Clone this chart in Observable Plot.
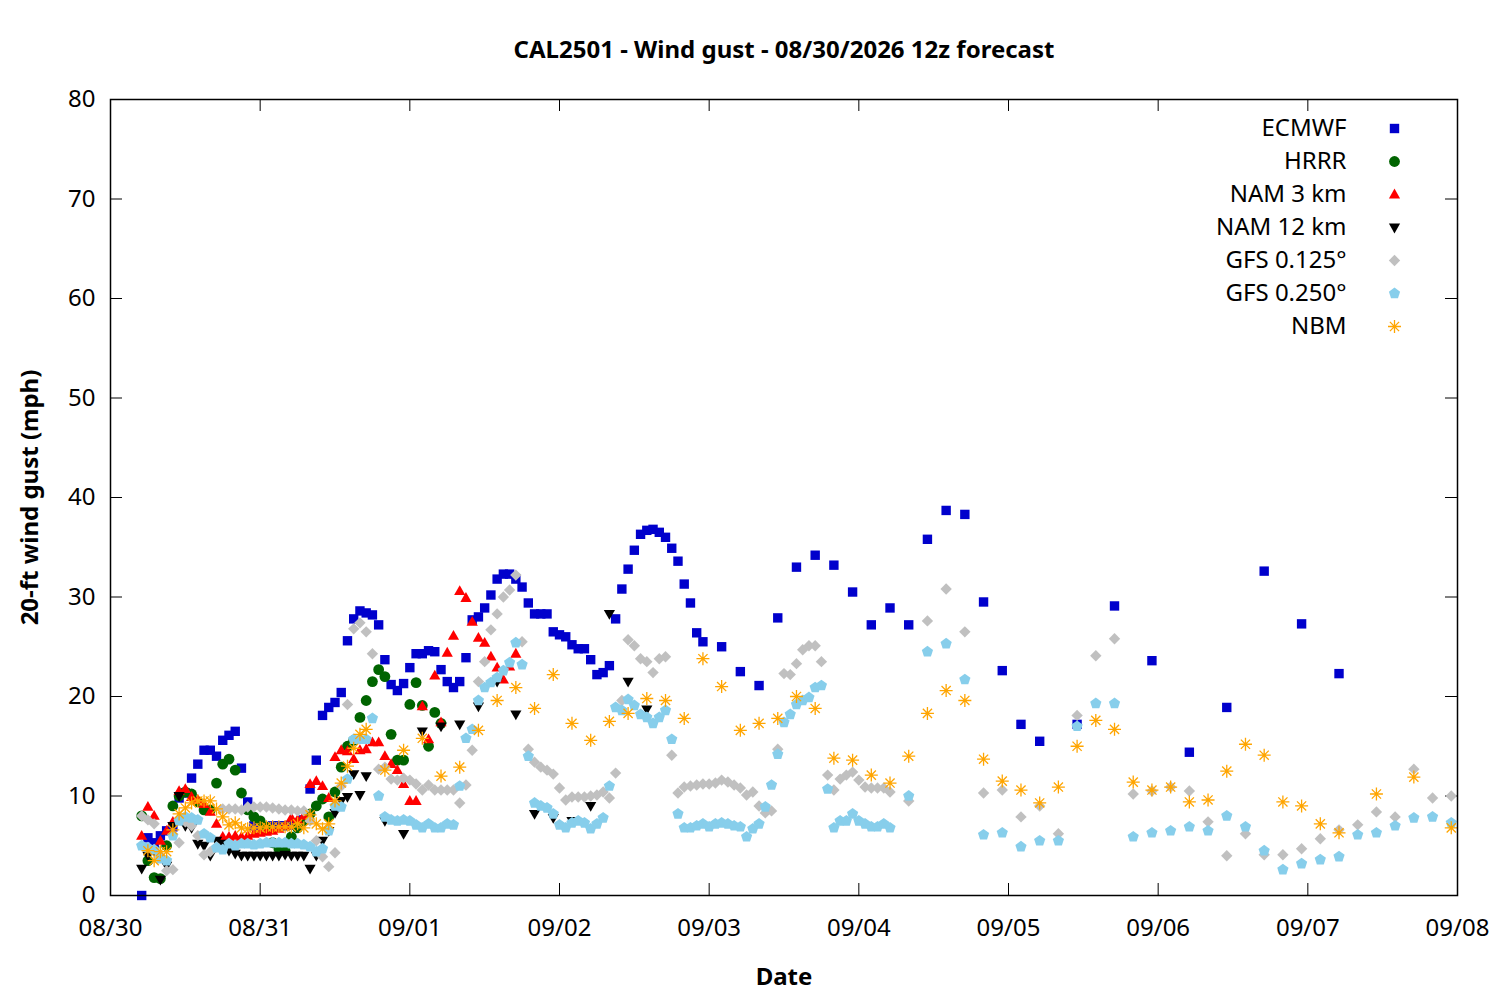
<!DOCTYPE html>
<html>
<head>
<meta charset="utf-8">
<script src="https://cdn.jsdelivr.net/npm/d3@7"></script>
<script src="https://cdn.jsdelivr.net/npm/@observablehq/plot@0.6"></script>
<style>
  body { margin: 0; background: #fff; }
</style>
</head>
<body>
<div id="chart"></div>
<script>
// forecast run 08/30/2026 12z, hours counted from 08/30 00:00 local
const title = "CAL2501 - Wind gust - 08/30/2026 12z forecast"
const xLabel = "Date"
const yLabel = "20-ft wind gust (mph)"
const dayLabels = ["08/30", "08/31", "09/01", "09/02", "09/03", "09/04", "09/05", "09/06", "09/07", "09/08"]
const yTicks = [0, 10, 20, 30, 40, 50, 60, 70, 80]
const models = ["ECMWF", "HRRR", "NAM 3 km", "NAM 12 km", "GFS 0.125°", "GFS 0.250°", "NBM"]

// output times of each model (hourly, then 3-hourly, then 6-hourly)
const ecmwfHours = [...d3.range(5, 96), ...d3.range(98, 150, 3), ...d3.range(155, 198, 6)]
const hrrrHours = d3.range(5, 54)
const nam3Hours = d3.range(5, 66)
const nam12Hours = [...d3.range(5, 42), ...d3.range(44, 87, 3)]
const gfsHours = [...d3.range(5, 126), ...d3.range(128, 216, 3)]
const nbmHours = [...d3.range(6, 42), ...d3.range(44, 198, 3), 203, 209, 215]

const ecmwfGust = [
  0.0, 5.8, 5.3, 6.0, 6.5, 6.9, 9.8, 10.3, 11.8, 13.2, 14.6, 14.6, 14.0, 15.6, 16.1, 16.5, 12.8, 9.4,
  7.0, 6.9, 6.9, 7.0, 7.0, 7.0, 7.1, 7.2, 7.6, 10.7, 13.6, 18.1, 18.9, 19.4, 20.4, 25.6, 27.8, 28.6,
  28.4, 28.2, 27.2, 23.7, 21.2, 20.6, 21.3, 22.9, 24.3, 24.3, 24.6, 24.5, 22.7, 21.5, 20.9, 21.5, 23.9, 27.7,
  28.0, 28.9, 30.2, 31.8, 32.3, 32.3, 31.8, 31.0, 29.4, 28.3, 28.3, 28.3, 26.5, 26.2, 26.0, 25.2, 24.8, 24.8,
  23.7, 22.2, 22.4, 23.1, 27.8, 30.8, 32.8, 34.7, 36.3, 36.7, 36.8, 36.5, 36.0, 34.9, 33.6, 31.3, 29.4, 26.4,
  25.5,
  25.0, 22.5, 21.1, 27.9, 33.0, 34.2, 33.2, 30.5, 27.2, 28.9, 27.2, 35.8, 38.7, 38.3, 29.5, 22.6, 17.2, 15.5,
  17.2, 29.1, 23.6, 14.4, 18.9, 32.6, 27.3, 22.3
]
const hrrrGust = [
  8.0, 3.5, 1.8, 1.7, 5.0, 9.0, 10.0, 10.4, 10.2, 9.4, 8.6, 8.6, 11.3, 13.2, 13.7, 12.6, 10.3, 8.6,
  7.9, 7.5, 6.9, 5.3, 4.7, 4.5, 5.9, 6.8, 7.5, 8.2, 9.0, 9.7, 7.9, 10.4, 12.9, 15.0, 15.6, 17.9,
  19.6, 21.5, 22.7, 22.0, 16.2, 13.6, 13.6, 19.2, 21.4, 19.1, 15.0, 18.4, 17.3
]
const nam3Gust = [
  6.0, 8.9, 8.0, 5.5, 6.5, 7.4, 10.5, 10.7, 9.9, 9.6, 9.2, 8.4, 7.2, 5.9, 5.9, 6.0, 5.9, 6.0,
  6.2, 6.3, 6.4, 6.5, 6.7, 7.0, 7.8, 7.6, 8.0, 11.2, 11.5, 11.0, 9.8, 13.9, 14.6, 14.5, 13.7, 14.6,
  14.7, 15.4, 15.4, 14.0, 13.2, 12.6, 11.2, 9.5, 9.5, 19.0, 15.7, 22.1, 17.4, 24.4, 26.1, 30.6, 29.9, 27.5,
  25.9, 25.4, 24.0, 22.9, 21.7, 23.0, 24.3
]
const nam12Gust = [
  2.7, 4.0, 4.5, 1.6, 3.0, 7.0, 10.0, 7.0, 6.8, 5.2, 5.0, 4.0, 5.5, 5.2, 4.5, 4.2, 4.0, 4.0,
  4.0, 4.0, 4.0, 4.0, 4.0, 4.1, 4.0, 4.0, 4.0, 2.7, 4.0, 5.5, 6.5, 8.3, 9.5, 9.9, 12.2, 10.1,
  12.0,
  7.5, 6.2, 16.5, 17.0, 17.2, 19.0, 21.5, 18.2, 8.2, 7.8, 7.5, 9.0, 28.3, 21.5, 18.7
]
const gfs125Gust = [
  8.0, 7.6, 7.2, 4.0, 2.5, 2.6, 5.3, 7.4, 7.0, 6.0, 4.1, 4.4, 4.9, 8.7, 8.7, 8.7, 8.6, 8.9,
  8.9, 8.9, 8.9, 8.8, 8.7, 8.6, 8.6, 8.5, 8.5, 7.5, 5.5, 3.9, 2.9, 4.3, 11.0, 19.2, 26.8, 27.4,
  26.5, 24.3, 12.7, 12.9, 11.7, 11.6, 11.8, 11.6, 11.2, 10.6, 11.1, 10.6, 10.6, 10.6, 10.6, 9.3, 11.1, 14.6,
  21.5, 23.5, 26.7, 28.3, 30.0, 30.7, 32.2, 25.5, 14.7, 13.4, 12.9, 12.6, 12.2, 10.8, 9.6, 9.9, 9.9, 9.9,
  10.0, 10.1, 10.4, 9.8, 12.3, 19.6, 25.7, 25.1, 23.8, 23.5, 22.4, 23.8, 24.0, 14.1, 10.3, 10.9, 11.0, 11.1,
  11.2, 11.2, 11.3, 11.6, 11.4, 11.1, 10.8, 10.1, 10.4, 9.0, 8.3, 8.5, 14.7, 22.3, 22.2, 23.3, 24.7, 25.1,
  25.1, 23.5, 12.1, 10.6, 11.7, 12.1, 12.4, 11.6, 10.9, 10.8, 10.8, 10.8, 10.4,
  9.5, 27.6, 30.8, 26.5, 10.3, 10.6, 7.9, 9.0, 6.2, 18.1, 24.1, 25.8, 10.2, 10.5, 10.9, 10.5, 7.4, 4.0,
  6.2, 4.1, 4.1, 4.7, 5.7, 6.6, 7.1, 8.4, 7.9, 12.7, 9.8, 10.0
]
const gfs250Gust = [
  5.0, 4.8, 4.6, 3.7, 3.5, 6.0, 7.5, 7.9, 7.8, 7.6, 6.2, 5.8, 4.8, 4.6, 5.2, 5.0, 5.2, 5.2,
  5.1, 5.2, 5.3, 5.3, 5.3, 5.3, 5.2, 5.2, 5.1, 4.9, 4.4, 4.7, 6.5, 9.0, 8.9, 11.7, 15.7, 15.7,
  15.7, 17.8, 10.0, 7.9, 7.6, 7.5, 7.6, 7.5, 7.1, 6.8, 7.2, 6.8, 6.8, 7.2, 7.1, 11.0, 15.8, 16.7,
  19.6, 20.9, 21.4, 21.9, 22.6, 23.4, 25.4, 23.2, 14.0, 9.3, 9.0, 8.8, 8.2, 7.1, 6.8, 7.3, 7.5, 7.3,
  6.7, 7.2, 7.8, 11.0, 18.9, 18.6, 19.7, 19.1, 18.2, 17.9, 17.3, 17.9, 18.6, 15.7, 8.2, 6.8, 6.8, 7.0,
  7.2, 6.9, 7.2, 7.3, 7.2, 7.0, 6.9, 5.9, 6.7, 7.2, 8.9, 11.1, 14.2, 17.4, 18.2, 19.2, 19.6, 19.9,
  20.9, 21.1, 10.7, 6.8, 7.5, 7.5, 8.2, 7.5, 7.2, 6.9, 6.9, 7.2, 6.8,
  10.0, 24.5, 25.3, 21.7, 6.1, 6.3, 4.9, 5.5, 5.5, 17.0, 19.3, 19.3, 5.9, 6.3, 6.5, 6.9, 6.5, 8.0,
  6.9, 4.5, 2.6, 3.2, 3.6, 3.9, 6.1, 6.3, 7.0, 7.8, 7.9, 7.3
]
const nbmGust = [
  4.5, 3.5, 4.4, 4.4, 6.6, 8.2, 8.8, 9.3, 9.5, 9.5, 9.5, 8.7, 7.9, 7.1, 7.3, 6.8, 6.7, 6.8,
  6.8, 6.9, 6.9, 6.9, 6.9, 6.9, 7.2, 6.8, 8.1, 7.2, 6.7, 7.2, 9.5, 11.3, 13.0, 14.8, 16.2, 16.7,
  12.6, 14.6, 15.8, 12.0, 12.9, 16.6, 19.6, 20.9, 18.8, 22.2, 17.3, 15.6, 17.5, 18.3, 19.8, 19.6, 17.8, 23.8,
  21.0, 16.6, 17.3, 17.8, 20.0, 18.8, 13.8, 13.6, 12.1, 11.3, 14.0, 18.3, 20.6, 19.6, 13.7, 11.5, 10.6, 9.3,
  10.9, 15.0, 17.6, 16.7, 11.4, 10.6, 10.9, 9.4, 9.6, 12.5, 15.2, 14.1, 9.4, 9.0, 7.2, 6.3,
  10.2, 11.9, 6.8
]

const t0 = Date.UTC(2026, 7, 30)
const hourMs = 3600e3
const toPoints = (hours, gust) => hours.map((h, i) => ({date: new Date(t0 + h * hourMs), gust: gust[i]}))

const dayDates = dayLabels.map(s => new Date(Date.UTC(2026, +s.slice(0, 2) - 1, +s.slice(3))))
const xStart = dayDates[0], xEnd = dayDates[dayDates.length - 1]

// gnuplot-like point shapes, r taken from the mark's r option
const rad = s => Math.sqrt(s / Math.PI)
const poly = (c, pts) => { c.moveTo(pts[0][0], pts[0][1]); pts.slice(1).forEach(p => c.lineTo(p[0], p[1])); c.closePath() }
const shapes = {
  square: {draw(c, s) { const r = rad(s); poly(c, [[-r, -r], [r, -r], [r, r], [-r, r]]) }},
  circle: {draw(c, s) { const r = rad(s); c.moveTo(r, 0); c.arc(0, 0, r, 0, 2 * Math.PI) }},
  triUp: {draw(c, s) { const r = rad(s); poly(c, [[0, -1.05 * r], [r, 0.7 * r], [-r, 0.7 * r]]) }},
  triDown: {draw(c, s) { const r = rad(s); poly(c, [[0, 1.05 * r], [r, -0.7 * r], [-r, -0.7 * r]]) }},
  diamond: {draw(c, s) { const r = rad(s); poly(c, [[0, -r], [r, 0], [0, r], [-r, 0]]) }},
  pentagon: {draw(c, s) {
    const r = rad(s)
    poly(c, d3.range(5).map(k => [r * Math.sin(k * 2 * Math.PI / 5), -r * Math.cos(k * 2 * Math.PI / 5)]))
  }},
  asterisk: {draw(c, s) {
    const r = rad(s), d = r * Math.SQRT1_2
    c.moveTo(-r, 0); c.lineTo(r, 0); c.moveTo(0, -r); c.lineTo(0, r)
    c.moveTo(-d, -d); c.lineTo(d, d); c.moveTo(-d, d); c.lineTo(d, -d)
  }}
}

const series = [
  {name: models[0], data: toPoints(ecmwfHours, ecmwfGust), symbol: shapes.square, r: 4.7, fill: "#0000cc"},
  {name: models[1], data: toPoints(hrrrHours, hrrrGust), symbol: shapes.circle, r: 5.4, fill: "#006400"},
  {name: models[2], data: toPoints(nam3Hours, nam3Gust), symbol: shapes.triUp, r: 5.6, fill: "#ff0000"},
  {name: models[3], data: toPoints(nam12Hours, nam12Gust), symbol: shapes.triDown, r: 5.6, fill: "#000000"},
  {name: models[4], data: toPoints(gfsHours, gfs125Gust), symbol: shapes.diamond, r: 5.7, fill: "#c0c0c0"},
  {name: models[5], data: toPoints(gfsHours, gfs250Gust), symbol: shapes.pentagon, r: 5.9, fill: "#87ceeb"},
  {name: models[6], data: toPoints(nbmHours, nbmGust), symbol: shapes.asterisk, r: 6.5, stroke: "#ffa500"}
]

const dotOpts = s => s.stroke
  ? {symbol: s.symbol, r: s.r, fill: "none", stroke: s.stroke, strokeWidth: 1.3}
  : {symbol: s.symbol, r: s.r, fill: s.fill, stroke: "none"}

const tickLenY = 80 * 12 / 796
const tickLenMs = 9 * 24 * hourMs * 12 / 1347

const chart = Plot.plot({
  width: 1500,
  height: 1000,
  marginLeft: 110,
  marginRight: 43,
  marginTop: 99,
  marginBottom: 105,
  style: {fontFamily: "Noto Sans", fontSize: "24px", color: "black", background: "white"},
  x: {type: "utc", domain: [xStart, xEnd]},
  y: {domain: [0, 80]},
  marks: [
    Plot.axisX({ticks: dayDates, tickFormat: d3.utcFormat("%m/%d"), tickSize: 0, tickPadding: 23, label: null, fontSize: 24}),
    Plot.axisY({ticks: yTicks, tickSize: 0, tickPadding: 15, label: null, fontSize: 24}),
    Plot.ruleX(dayDates, {x: d => d, y1: 0, y2: tickLenY, stroke: "black"}),
    Plot.ruleX(dayDates, {x: d => d, y1: 80 - tickLenY, y2: 80, stroke: "black"}),
    Plot.ruleY(yTicks, {y: d => d, x1: xStart, x2: new Date(+xStart + tickLenMs), stroke: "black"}),
    Plot.ruleY(yTicks, {y: d => d, x1: new Date(+xEnd - tickLenMs), x2: xEnd, stroke: "black"}),
    ...series.map(s => Plot.dot(s.data, {x: "date", y: "gust", ...dotOpts(s)})),
    // legend, top right inside the frame
    ...series.map((s, i) => Plot.text([s.name], {text: d => d, frameAnchor: "top-right", dx: -111, dy: 29 + 33 * i, textAnchor: "end", lineAnchor: "middle", fontSize: 24})),
    ...series.map((s, i) => Plot.dot([s.name], {frameAnchor: "top-right", dx: -63, dy: 29 + 33 * i, ...dotOpts(s)})),
    Plot.frame({stroke: "black", strokeWidth: 1.5}),
    Plot.text([title], {text: d => d, frameAnchor: "top", dy: -49, lineAnchor: "middle", fontWeight: "bold", fontSize: 24}),
    Plot.text([xLabel], {text: d => d, frameAnchor: "bottom", dy: 82, lineAnchor: "middle", fontWeight: "bold", fontSize: 24}),
    Plot.text([yLabel], {text: d => d, frameAnchor: "left", dx: -80, rotate: -90, textAnchor: "middle", lineAnchor: "middle", fontWeight: "bold", fontSize: 24})
  ]
})
d3.select("#chart").append(() => chart)
</script>
</body>
</html>
